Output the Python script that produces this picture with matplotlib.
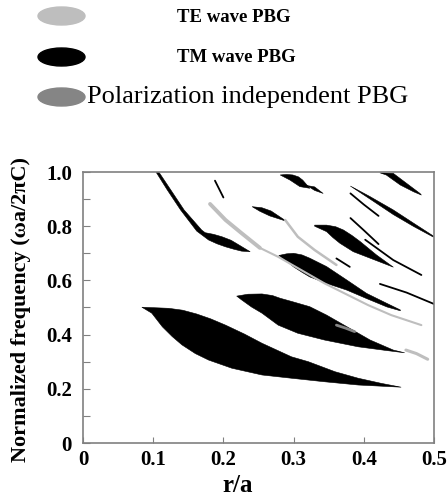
import numpy as np
import matplotlib
matplotlib.use('Agg')
import matplotlib.pyplot as plt
from matplotlib.patches import Ellipse

plt.rcParams['font.family'] = ['Liberation Serif', 'DejaVu Serif']

# ---- gap map data (r/a, normalized frequency) ----
# TM gaps drawn as filled regions: upper edge and lower edge
tm_gaps = {
    'A': ([0.084, 0.122, 0.142, 0.162, 0.182, 0.203, 0.230, 0.255, 0.297, 0.321, 0.359, 0.392, 0.425, 0.453],
          [0.501, 0.497, 0.490, 0.476, 0.458, 0.435, 0.402, 0.368, 0.318, 0.300, 0.263, 0.239, 0.220, 0.206],
          [0.084, 0.098, 0.113, 0.127, 0.141, 0.160, 0.179, 0.212, 0.255, 0.297, 0.344, 0.392, 0.453],
          [0.501, 0.479, 0.429, 0.393, 0.362, 0.330, 0.306, 0.276, 0.251, 0.239, 0.226, 0.214, 0.206]),
    'B': ([0.219, 0.235, 0.255, 0.270, 0.281, 0.299, 0.323, 0.347, 0.376, 0.409, 0.442, 0.458],
          [0.542, 0.549, 0.550, 0.544, 0.534, 0.521, 0.503, 0.472, 0.429, 0.380, 0.343, 0.333],
          [0.219, 0.226, 0.240, 0.255, 0.278, 0.306, 0.344, 0.392, 0.430, 0.458],
          [0.542, 0.528, 0.502, 0.479, 0.435, 0.405, 0.380, 0.355, 0.342, 0.333]),
    'C': ([0.279, 0.290, 0.300, 0.312, 0.323, 0.347, 0.376, 0.404, 0.433, 0.452],
          [0.692, 0.698, 0.700, 0.694, 0.682, 0.651, 0.601, 0.552, 0.515, 0.491],
          [0.279, 0.290, 0.300, 0.312, 0.323, 0.347, 0.376, 0.404, 0.433, 0.452],
          [0.692, 0.671, 0.650, 0.630, 0.613, 0.589, 0.564, 0.533, 0.502, 0.488]),
    'D': ([0.330, 0.347, 0.360, 0.371, 0.383, 0.395, 0.418, 0.442],
          [0.804, 0.804, 0.798, 0.786, 0.766, 0.743, 0.694, 0.649],
          [0.330, 0.347, 0.356, 0.366, 0.385, 0.409, 0.442],
          [0.800, 0.780, 0.758, 0.737, 0.706, 0.682, 0.649]),
    'E1': ([0.281, 0.290, 0.299, 0.307, 0.313, 0.323],
           [0.989, 0.991, 0.989, 0.982, 0.970, 0.940],
           [0.281, 0.295, 0.309, 0.323],
           [0.989, 0.970, 0.946, 0.940]),
    'E2': ([0.319, 0.330, 0.342],
           [0.950, 0.945, 0.921],
           [0.319, 0.330, 0.342],
           [0.950, 0.932, 0.921]),
    'F': ([0.423, 0.442, 0.461, 0.480, 0.482],
          [0.997, 0.995, 0.958, 0.921, 0.915],
          [0.423, 0.432, 0.452, 0.471, 0.482],
          [0.997, 0.989, 0.952, 0.927, 0.915]),
    'G': ([0.381, 0.409, 0.442, 0.471, 0.499],
          [0.948, 0.909, 0.860, 0.811, 0.764],
          [0.381, 0.409, 0.442, 0.471, 0.499],
          [0.948, 0.900, 0.843, 0.799, 0.760]),
    'I': ([0.108, 0.125, 0.144, 0.169, 0.174, 0.186, 0.198, 0.211, 0.222, 0.238],
          [1.000, 0.934, 0.860, 0.786, 0.776, 0.770, 0.761, 0.748, 0.731, 0.706],
          [0.104, 0.120, 0.139, 0.162, 0.179, 0.191, 0.203, 0.215, 0.226, 0.238],
          [1.000, 0.934, 0.860, 0.782, 0.749, 0.735, 0.724, 0.715, 0.708, 0.706]),
    'K': ([0.241, 0.255, 0.268, 0.290],
          [0.872, 0.868, 0.856, 0.818],
          [0.241, 0.252, 0.266, 0.290],
          [0.872, 0.855, 0.838, 0.818]),
}

# thin TM gaps drawn as lines
tm_lines = [
    ([0.381, 0.400, 0.421], [0.921, 0.880, 0.838]),
    ([0.381, 0.400, 0.421], [0.830, 0.785, 0.734]),
    ([0.402, 0.442, 0.482], [0.750, 0.675, 0.620]),
    ([0.423, 0.461, 0.500], [0.587, 0.555, 0.513]),
    ([0.361, 0.380], [0.681, 0.650]),
    ([0.188, 0.200], [0.968, 0.906]),
]

# TE gaps (thin)
te_lines = [
    ([0.288, 0.306, 0.330, 0.361], [0.823, 0.761, 0.712, 0.657]),
    ([0.181, 0.203, 0.226, 0.252], [0.882, 0.823, 0.774, 0.720]),
    ([0.252, 0.278, 0.311, 0.344, 0.382, 0.406, 0.439, 0.482],
     [0.720, 0.687, 0.638, 0.589, 0.540, 0.509, 0.472, 0.435]),
    ([0.460, 0.475, 0.491], [0.343, 0.330, 0.309]),
]
te_widths = [1.8, 2.8, 1.5, 2.2]

# polarization independent gap
pi_line = ([0.361, 0.374, 0.387], [0.435, 0.424, 0.411])

legend_labels = ['TE wave PBG', 'TM wave PBG', 'Polarization independent PBG']

TE_C = '#bebebe'
TM_C = '#000000'
PI_C = '#858585'

W, H = 448, 498
fig = plt.figure(figsize=(W / 100, H / 100), dpi=100)
ax = fig.add_axes([83 / W, 55 / H, 351 / W, 271 / H])

for key, (rt, ft, rb, fb) in tm_gaps.items():
    xs = list(rt) + list(rb[::-1])
    ys = list(ft) + list(fb[::-1])
    ax.fill(xs, ys, color=TM_C, lw=0.4, joinstyle='round')

for r, f in tm_lines:
    ax.plot(r, f, color=TM_C, lw=1.3, solid_capstyle='round')

for (r, f), lw in zip(te_lines, te_widths):
    ax.plot(r, f, color=TE_C, lw=lw, solid_capstyle='round')

ax.plot(pi_line[0], pi_line[1], color=PI_C, lw=2, solid_capstyle='round')

ax.set_xlim(0, 0.5)
ax.set_ylim(0, 1.0)
ax.set_xticks([0, 0.1, 0.2, 0.3, 0.4, 0.5])
ax.set_xticklabels(['0', '0.1', '0.2', '0.3', '0.4', '0.5'])
ax.set_yticks([0, 0.2, 0.4, 0.6, 0.8, 1.0])
ax.set_yticklabels(['0', '0.2', '0.4', '0.6', '0.8', '1.0'])
ax.set_yticks(np.arange(0.1, 1.0, 0.2), minor=True)
ax.tick_params(axis='both', which='both', direction='in', color='#808080',
               labelsize=15, width=0.8)
ax.tick_params(axis='y', which='both', length=5, pad=8)
ax.tick_params(axis='x', which='both', length=4, pad=5)
for lab in ax.get_xticklabels() + ax.get_yticklabels():
    lab.set_fontweight('bold')
for s in ax.spines.values():
    s.set_color('#808080')
    s.set_linewidth(1.2)

fig.text(21 / W, 1 - 310 / H, 'Normalized frequency (\u03c9a/2\u03c0C)', rotation=90,
         ha='center', va='center', fontsize=16, fontweight='bold')
fig.text(237.5 / W, 1 - 492 / H, 'r/a', ha='center', va='baseline',
         fontsize=18, fontweight='bold')

# legend
leg_y = [16, 57, 97]
leg_c = [TE_C, TM_C, PI_C]
for yy, cc in zip(leg_y, leg_c):
    fig.add_artist(Ellipse((61.5 / W, 1 - yy / H), 47 / W, 18 / H,
                           transform=fig.transFigure, color=cc))
fig.text(177 / W, 1 - 17 / H, legend_labels[0], ha='left', va='center',
         fontsize=13.5, fontweight='bold')
fig.text(177 / W, 1 - 58 / H, legend_labels[1], ha='left', va='center',
         fontsize=13.5, fontweight='bold')
fig.text(87 / W, 1 - 97 / H, legend_labels[2], ha='left', va='center',
         fontsize=19)

fig.savefig('out.png', dpi=100)
